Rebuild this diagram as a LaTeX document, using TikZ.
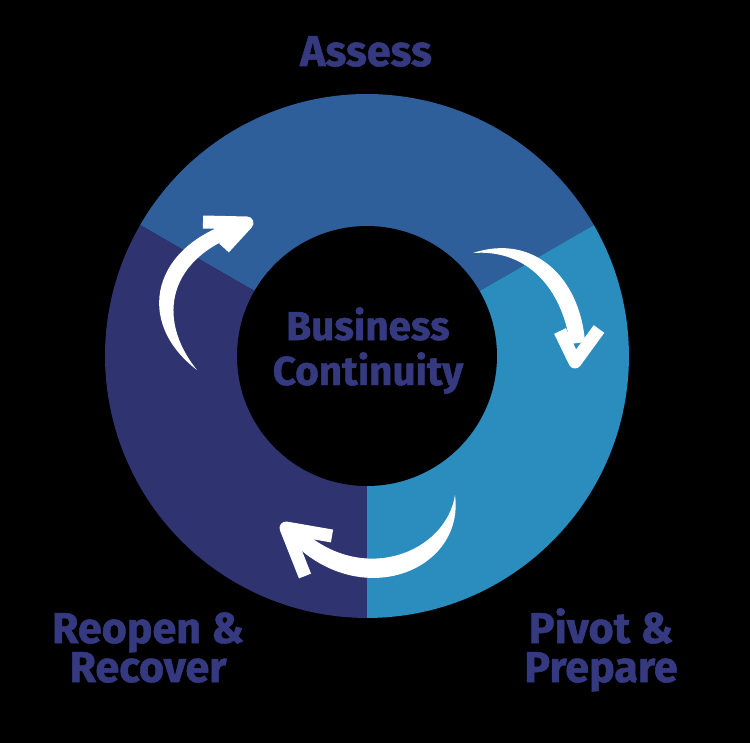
\documentclass[tikz,border=0pt]{standalone}
\usepackage{fontspec}
\setmainfont{Fira Sans}[BoldFeatures={FakeBold=1.2}]
\definecolor{assessblue}{HTML}{2F5F9B}
\definecolor{pivotblue}{HTML}{2B8CBE}
\definecolor{reopenblue}{HTML}{2F336F}
\definecolor{labelblue}{HTML}{353A80}
\tikzset{
  lbl/.style={text=labelblue,font=\fontsize{24.5pt}{22.2pt}\selectfont\bfseries,inner sep=0pt},
  ctrlbl/.style={text=labelblue,font=\fontsize{23pt}{25.6pt}\selectfont\bfseries,inner sep=0pt},
  arrowhead/.style={draw=white,line width=0.26cm,line join=round}
}
\begin{document}
\setlength{\lineskiplimit}{-20pt}
\begin{tikzpicture}[x=0.02cm,y=-0.02cm]
                \fill[black] (0,0) rectangle (750,743);
                \coordinate (ctr) at (367,356);
                % ring
                \fill[assessblue] (ctr) -- ++(30:5.24cm) arc[start angle=30,end angle=150,radius=5.24cm] -- cycle;
                \fill[reopenblue] (ctr) -- ++(150:5.24cm) arc[start angle=150,end angle=270,radius=5.24cm] -- cycle;
                \fill[pivotblue] (ctr) -- ++(270:5.24cm) arc[start angle=270,end angle=390,radius=5.24cm] -- cycle;
                \fill[black] (ctr) circle[radius=2.6cm];
                % arrows
                \fill[white] (197,370) .. controls (134,322) and (150,244) .. (242,219) -- (246,232) .. controls (168,256) and (155,318) .. (197,370) -- cycle;
                \draw[arrowhead] (203,222) -- (247,223) -- (224,248);
                \fill[white] (473,253) .. controls (533,233) and (580,277) .. (585,342) -- (570,344) .. controls (562,288) and (527,249) .. (473,253) -- cycle;
                \draw[arrowhead] (560,331) -- (575,362) -- (599,329);
                \fill[white] (455,495) .. controls (465,570) and (362,613) .. (291,541) -- (301,529) .. controls (362,586) and (446,553) .. (455,495) -- cycle;
                \draw[arrowhead] (332,536) -- (286,528) -- (305,576);
                % labels
                \node[lbl,anchor=base] (assess) at (366,66) {Assess};
                \node[lbl,anchor=base,align=center] (reopen) at (148,682) {Reopen \&\\Recover};
                \node[lbl,anchor=base,align=center] (pivot) at (601,682) {Pivot \&\\Prepare};
                \node[ctrlbl,anchor=base,align=center] (bc) at (368,385) {Business\\Continuity};
            \end{tikzpicture}
\end{document}
